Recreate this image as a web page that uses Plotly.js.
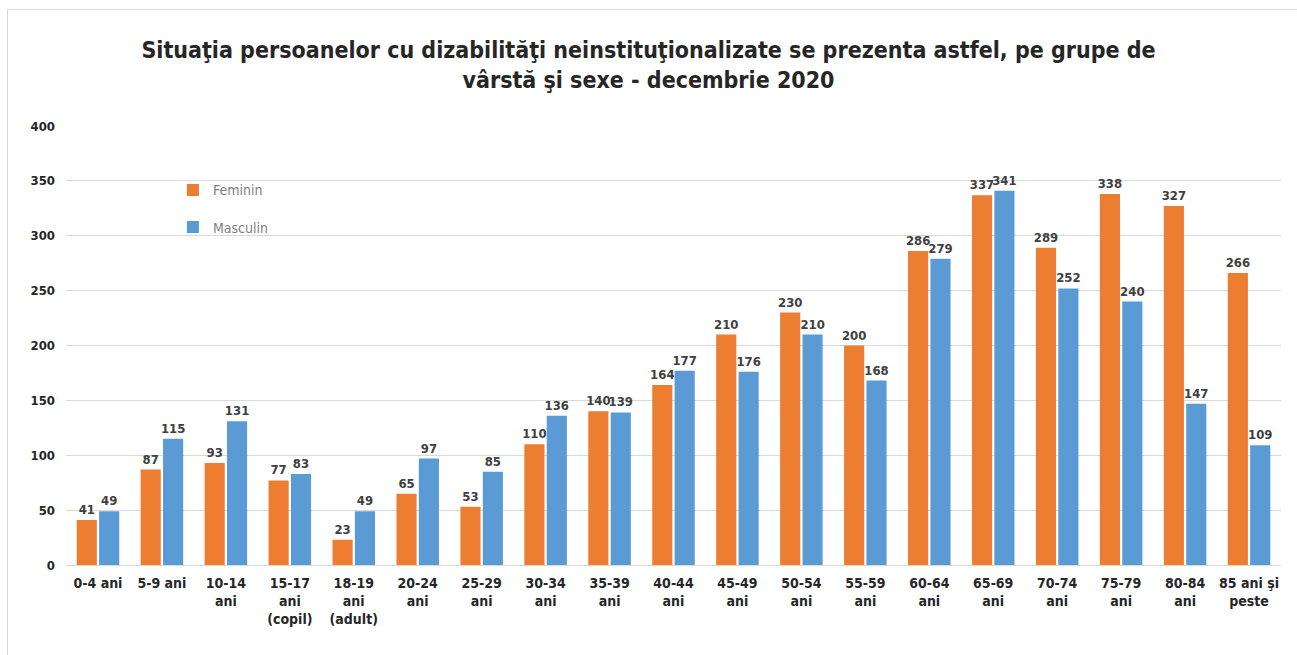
<!DOCTYPE html>
<html>
<head>
    <title>Persoane cu dizabilitati neinstitutionalizate - decembrie 2020</title>
    <script src="https://cdn.plot.ly/plotly-3.0.1.min.js"></script>
    <style>
        body {
            margin: 0;
            background-color: white;
        }
        #frame {
            position: absolute;
            left: 7px;
            top: 9px;
            width: 1290px;
            height: 646px;
            border-left: 1px solid #d9d9d9;
            border-top: 1px solid #d9d9d9;
        }
        #chart {
            position: absolute;
            left: 0;
            top: 0;
            width: 1297px;
            height: 655px;
        }
    </style>
</head>
<body>
    <div id="frame"></div>
    <div id="chart"></div>

    <script>
        // age groups (x-axis categories)
        const ageGroups = [
            '0-4 ani', '5-9 ani', '10-14<br>ani', '15-17<br>ani<br>(copil)',
            '18-19<br>ani<br>(adult)', '20-24<br>ani', '25-29<br>ani', '30-34<br>ani',
            '35-39<br>ani', '40-44<br>ani', '45-49<br>ani', '50-54<br>ani',
            '55-59<br>ani', '60-64<br>ani', '65-69<br>ani', '70-74<br>ani',
            '75-79<br>ani', '80-84<br>ani', '85 ani şi<br>peste'
        ];
        const feminin = [41, 87, 93, 77, 23, 65, 53, 110, 140, 164, 210, 230, 200, 286, 337, 289, 338, 327, 266];
        const masculin = [49, 115, 131, 83, 49, 97, 85, 136, 139, 177, 176, 210, 168, 279, 341, 252, 240, 147, 109];
        const yTicks = [0, 50, 100, 150, 200, 250, 300, 350, 400];

        const font = 'DejaVu Sans Condensed, Liberation Sans Narrow, sans-serif';

        const labelFont = {family: font, size: 13, color: '#404040', weight: 'bold'};

        const traceF = {
            x: ageGroups,
            y: feminin,
            name: 'Feminin',
            type: 'bar',
            legendgroup: 'f',
            marker: {color: '#ed7d31'},
            text: feminin.map(String),
            textposition: 'outside',
            constraintext: 'none',
            cliponaxis: false,
            textfont: labelFont,
            hoverinfo: 'y+name'
        };
        const traceM = {
            x: ageGroups,
            y: masculin,
            name: 'Masculin',
            type: 'bar',
            legendgroup: 'm',
            marker: {color: '#5b9bd5'},
            text: masculin.map(String),
            textposition: 'outside',
            constraintext: 'none',
            cliponaxis: false,
            textfont: labelFont,
            hoverinfo: 'y+name'
        };

        Plotly.newPlot('chart', [traceF, traceM], {
            width: 1297,
            height: 655,
            margin: {l: 66, r: 16, t: 126, b: 90},
            paper_bgcolor: 'rgba(0,0,0,0)',
            plot_bgcolor: 'rgba(0,0,0,0)',
            font: {family: font, color: '#262626'},
            title: {
                text: 'Situaţia persoanelor cu dizabilităţi neinstituţionalizate se prezenta astfel, pe grupe de<br>vârstă şi sexe - decembrie 2020',
                font: {family: font, size: 23, color: '#262626', weight: 'bold'},
                x: 0.5,
                xanchor: 'center',
                y: 0.912,
                yanchor: 'top'
            },
            barmode: 'group',
            bargap: 0.3,
            bargroupgap: 0.1,
            showlegend: true,
            legend: {
                x: 0.088,
                y: 0.89,
                xanchor: 'left',
                yanchor: 'top',
                bgcolor: 'rgba(0,0,0,0)',
                traceorder: 'grouped',
                tracegroupgap: 16,
                font: {family: font, size: 14, color: '#7f7f7f'}
            },
            xaxis: {
                type: 'category',
                tickfont: {family: font, size: 14, color: '#262626', weight: 'bold'},
                showgrid: false,
                showline: false,
                ticks: '',
                ticklabelstandoff: 8,
                automargin: false
            },
            yaxis: {
                range: [0, 400],
                tickvals: yTicks,
                tickfont: {family: font, size: 13, color: '#262626', weight: 'bold'},
                showgrid: true,
                gridcolor: '#d9d9d9',
                zeroline: true,
                zerolinecolor: '#d9d9d9',
                showline: false,
                ticks: '',
                ticklabelstandoff: 10,
                automargin: false
            }
        }, {displayModeBar: false});
    </script>
</body>
</html>
